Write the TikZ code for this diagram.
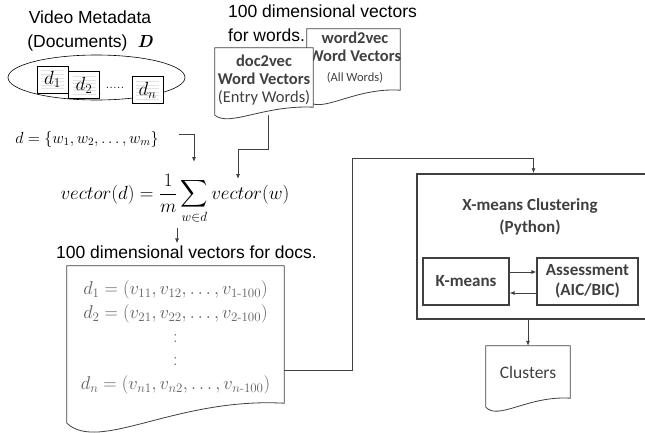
\RequirePackage{fix-cm}
\documentclass[tikz,border=0pt]{standalone}
\usepackage{amsmath, amssymb}
\usepackage{fontspec}
\usepackage{tikz}
\usetikzlibrary{calc, arrows.meta, positioning, shapes.geometric}
\newfontfamily\arialfont{Liberation Sans}
\newfontfamily\calfont{Carlito}
\definecolor{lineclr}{HTML}{404040}
\definecolor{txtclr}{HTML}{404040}
\definecolor{vecclr}{HTML}{606060}

\tikzset{
  arialtxt/.style={font=\arialfont\fontsize{17.5}{24}\selectfont, inner sep=2pt},
  caltxt/.style={font=\calfont\fontsize{16.5}{18}\selectfont, text=txtclr, inner sep=1pt},
  arr/.style={-{Latex[length=5pt,width=4pt]}, draw=lineclr, line width=0.8pt},
  docshape/.style={inner sep=0pt, append after command={\pgfextra{
      \filldraw[draw=lineclr, fill=white, line width=0.8pt]
        (\tikzlastnode.south east) -- (\tikzlastnode.north east)
        -- (\tikzlastnode.north west) -- ([yshift=-#1]\tikzlastnode.south west)
        .. controls ($(\tikzlastnode.south west)!0.15!(\tikzlastnode.south east)+(0,-2.5*#1)$)
        and ($(\tikzlastnode.south west)!0.5!(\tikzlastnode.south east)+(0,0.3*#1)$)
        .. (\tikzlastnode.south east) -- cycle;}}},
  minidoc/.style={draw=black, fill=white, line width=0.5pt, minimum width=31pt,
    minimum height=27pt, inner sep=0pt, font=\fontsize{19}{20}\selectfont,
    path picture={\foreach \k in {1,...,6}
      \draw[gray!22, line width=0.4pt]
        ([xshift=4pt, yshift=-\k*3.6pt-1pt]path picture bounding box.north west)
        -- ([xshift=-4pt, yshift=-\k*3.6pt-1pt]path picture bounding box.north east);},
    append after command={\pgfextra{
      \filldraw[draw=black, fill=gray!40, line width=0.4pt]
        ([xshift=-5pt]\tikzlastnode.south east) -- ([yshift=5pt]\tikzlastnode.south east)
        -- ([xshift=-4pt, yshift=4pt]\tikzlastnode.south east) -- cycle;}}},
  boxnode/.style={draw=lineclr, line width=1.2pt, minimum height=47pt, align=center,
    font=\calfont\bfseries\fontsize{17}{20}\selectfont, text=txtclr, inner sep=1pt}
}

\begin{document}
\begin{tikzpicture}[x=1pt, y=-1pt]
  \useasboundingbox (0,0) rectangle (645,432);

  % Documents
  \node[arialtxt, align=center] (meta) at (90,31) {Video Metadata\\(Documents)\ \ {\rmfamily\bfseries\itshape D}};
  \node[draw=black, ellipse, line width=0.6pt, minimum width=177pt, minimum height=45pt] (coll) at (96.5,77.5) {};
  \node[minidoc] (doc1) at (52.5,79.5) {$d_1$};
  \node[minidoc] (doc2) at (84,85) {$d_2$};
  \node[font=\fontsize{15}{16}\selectfont, inner sep=0pt] (gap) at (115,88) {.....};
  \node[minidoc] (docn) at (147.5,90) {$d_n$};
  \node[font=\fontsize{16}{18}\selectfont] (wset) at (87,139) {$d = \{w_1, w_2, \ldots, w_m\}$};

  % Word vectors
  \node[arialtxt, align=left, anchor=west] (wordlabel) at (226,23.5) {100 dimensional vectors\\for words.};
  \node[docshape=10pt, minimum width=93pt, minimum height=61pt] (w2v) at (353.5,59.5) {};
  \node[caltxt, align=center] (w2vtext) at (355,58) {\textbf{word2vec}\\\textbf{Word Vectors}\\[2pt]{\fontsize{12.5}{14}\selectfont (All Words)}};
  \node[docshape=8pt, minimum width=98pt, minimum height=59pt] (d2v) at (264,77.5) {};
  \node[caltxt, align=center] (d2vtext) at (264,80) {\textbf{doc2vec}\\\textbf{Word Vectors}\\(Entry Words)};

  % Averaging
  \node[font=\fontsize{19}{20}\selectfont, anchor=base] (avg) at (175,199) {$\displaystyle vector(d) = \frac{1}{m}\sum_{w\in d} vector(w)$};
  \coordinate (sumtop) at (194,162);
  \coordinate (vwtop) at (238,179);

  % Document vectors
  \node[arialtxt] (doclabel) at (186.5,252) {100 dimensional vectors for docs.};
  \node[docshape=20pt, minimum width=217pt, minimum height=137pt] (docvec) at (175.5,334.5) {};
  \node[font=\fontsize{18.5}{23.75}\selectfont, text=vecclr, align=center] (vecs) at (175.5,337.5) {%
    $d_1 = (v_{11}, v_{12}, \ldots, v_{1\text{-}100})$\\
    $d_2 = (v_{21}, v_{22}, \ldots, v_{2\text{-}100})$\\
    $:$\\
    $:$\\
    $d_n = (v_{n1}, v_{n2}, \ldots, v_{n\text{-}100})$};

  % Clustering
  \node[draw=lineclr, line width=1.5pt, minimum width=233pt, minimum height=145pt] (xmeans) at (533.5,246.5) {};
  \node[caltxt, font=\calfont\bfseries\fontsize{17}{22}\selectfont, align=center] (xtitle) at (530,217) {X-means Clustering\\(Python)};
  \node[boxnode, minimum width=86pt] (kmeans) at (466,281.5) {K-means};
  \node[boxnode, minimum width=101pt] (assess) at (587.5,281.5) {Assessment\\(AIC/BIC)};
  \node[docshape=9pt, minimum width=84pt, minimum height=52pt] (clusters) at (528,372) {};
  \node[caltxt, font=\calfont\fontsize{17.5}{20}\selectfont] (clustext) at (clusters) {Clusters};
  \coordinate (turn) at (352,158);

  % Arrows
  \draw[arr] ([xshift=17pt, yshift=5pt]wset.east) -| (sumtop);
  \draw[arr] ([xshift=4pt, yshift=-8pt]d2v.south) -- ++(0,34) -| (vwtop);
  \draw[arr] ([xshift=2pt]avg.south) -- ([xshift=2pt]avg.south |- doclabel.north);
  \draw[arr] ([yshift=-35.5pt]docvec.east) -| (turn) -| (xmeans.north);
  \draw[arr] ([yshift=9.5pt]kmeans.east) -- ([yshift=9.5pt]assess.west);
  \draw[arr] ([yshift=-11.5pt]assess.west) -- ([yshift=-11.5pt]kmeans.east);
  \draw[arr] (xmeans.south -| clusters.north) -- (clusters.north);
\end{tikzpicture}
\end{document}
